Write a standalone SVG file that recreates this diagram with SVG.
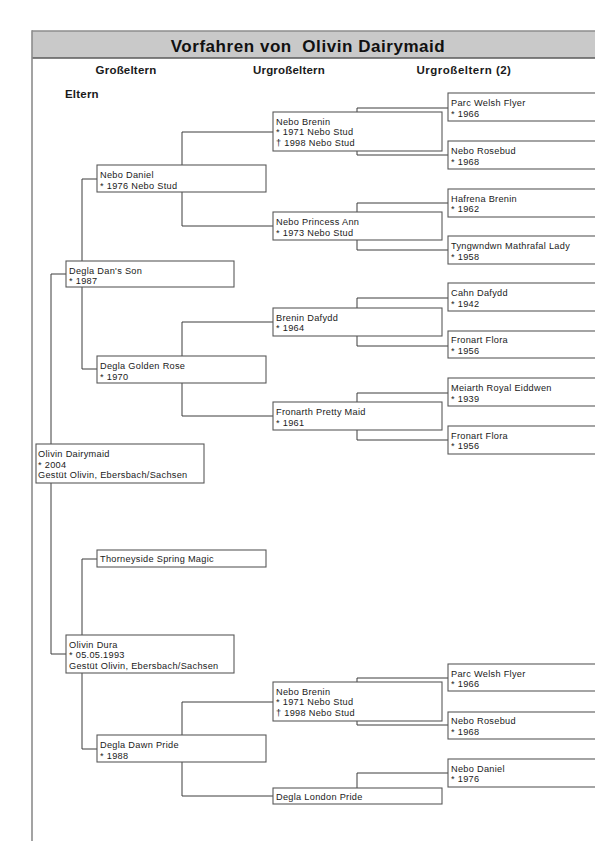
<svg xmlns="http://www.w3.org/2000/svg" width="595" height="841" viewBox="0 0 595 841">
<style>
.frame{fill:none;stroke:#8c8c8c;stroke-width:1.6}
.box{fill:#fff;stroke:#5a5a5a;stroke-width:1.1}
.c{fill:none;stroke:#3c3c3c;stroke-width:1}
.t{font-family:"Liberation Sans",Arial,sans-serif;font-size:9.2px;letter-spacing:0.3px;fill:#1a1a1a}
.h{font-family:"Liberation Sans",Arial,sans-serif;font-size:11.5px;font-weight:bold;letter-spacing:0.2px;fill:#1a1a1a}
.title{font-family:"Liberation Sans",Arial,sans-serif;font-size:17px;font-weight:bold;letter-spacing:0.55px;fill:#111}
</style>
<rect width="595" height="841" fill="#fff"/>
<g id="frame">
<rect x="32" y="31" width="580" height="27" fill="#c9c9c9"/>
<line x1="32" y1="31" x2="600" y2="31" stroke="#8c8c8c" stroke-width="1.4"/>
<line x1="32" y1="58" x2="600" y2="58" stroke="#5a5a5a" stroke-width="1.6"/>
<line x1="32" y1="30.3" x2="32" y2="841" class="frame"/>
<text x="308" y="52.3" text-anchor="middle" class="title" xml:space="preserve">Vorfahren von  Olivin Dairymaid</text>
<text x="126" y="74" text-anchor="middle" class="h">Großeltern</text>
<text x="289" y="74" text-anchor="middle" class="h">Urgroßeltern</text>
<text x="464" y="74" text-anchor="middle" class="h" style="letter-spacing:0.5px">Urgroßeltern (2)</text>
<text x="65" y="98" class="h">Eltern</text>
</g>
<g id="connectors">
<path class="c" d="M51,274 H66 M51,274 V444 M51,483 V654 H66"/>
<path class="c" d="M82,261 V179 H97 M82,287 V369 H97"/>
<path class="c" d="M82,635 V559 H97 M82,673 V749 H97"/>
<path class="c" d="M182,165 V132 H273 M182,192 V226 H273"/>
<path class="c" d="M182,356 V322 H273 M182,383 V416 H273"/>
<path class="c" d="M182,735 V702 H273 M182,762 V796 H273"/>
<path class="c" d="M357,112 V108 H448 M357,151 V155 H448"/>
<path class="c" d="M357,212 V203 H448 M357,240 V250 H448"/>
<path class="c" d="M357,308 V298 H448 M357,336 V346 H448"/>
<path class="c" d="M357,402 V393 H448 M357,430 V440 H448"/>
<path class="c" d="M357,682 V678 H448 M357,721 V725 H448"/>
<path class="c" d="M357,788 V773 H448"/>
</g>
<g id="n-olivin-dairymaid"><rect class="box" x="36" y="444" width="168" height="39"/><text class="t" x="38" y="456.5">Olivin Dairymaid</text><text class="t" x="38" y="467.5">* 2004</text><text class="t" x="38" y="478.3">Gestüt Olivin, Ebersbach/Sachsen</text></g>
<g id="n-degla-dans-son"><rect class="box" x="66" y="261" width="168" height="26"/><text class="t" x="69" y="273.5">Degla Dan's Son</text><text class="t" x="69" y="284">* 1987</text></g>
<g id="n-olivin-dura"><rect class="box" x="66" y="635" width="168" height="38"/><text class="t" x="69" y="647.5">Olivin Dura</text><text class="t" x="69" y="658.3">* 05.05.1993</text><text class="t" x="69" y="669">Gestüt Olivin, Ebersbach/Sachsen</text></g>
<g id="n-nebo-daniel"><rect class="box" x="97" y="165" width="169" height="27"/><text class="t" x="100" y="177.5">Nebo Daniel</text><text class="t" x="100" y="188.5">* 1976 Nebo Stud</text></g>
<g id="n-degla-golden-rose"><rect class="box" x="97" y="356" width="169" height="27"/><text class="t" x="100" y="368.5">Degla Golden Rose</text><text class="t" x="100" y="379.5">* 1970</text></g>
<g id="n-thorneyside"><rect class="box" x="97" y="550" width="169" height="17"/><text class="t" x="100" y="562">Thorneyside Spring Magic</text></g>
<g id="n-degla-dawn-pride"><rect class="box" x="97" y="735" width="169" height="27"/><text class="t" x="100" y="747.5">Degla Dawn Pride</text><text class="t" x="100" y="758.5">* 1988</text></g>
<g id="n-nebo-brenin-1"><rect class="box" x="273" y="112" width="169" height="39"/><text class="t" x="276" y="124.7">Nebo Brenin</text><text class="t" x="276" y="135.3">* 1971 Nebo Stud</text><text class="t" x="276" y="145.6">† 1998 Nebo Stud</text></g>
<g id="n-nebo-princess-ann"><rect class="box" x="273" y="212" width="169" height="28"/><text class="t" x="276" y="224.7">Nebo Princess Ann</text><text class="t" x="276" y="235.5">* 1973 Nebo Stud</text></g>
<g id="n-brenin-dafydd"><rect class="box" x="273" y="308" width="169" height="28"/><text class="t" x="276" y="320.5">Brenin Dafydd</text><text class="t" x="276" y="331">* 1964</text></g>
<g id="n-fronarth-pretty-maid"><rect class="box" x="273" y="402" width="169" height="28"/><text class="t" x="276" y="415">Fronarth Pretty Maid</text><text class="t" x="276" y="425.5">* 1961</text></g>
<g id="n-nebo-brenin-2"><rect class="box" x="273" y="682" width="169" height="39"/><text class="t" x="276" y="694.7">Nebo Brenin</text><text class="t" x="276" y="705.3">* 1971 Nebo Stud</text><text class="t" x="276" y="715.6">† 1998 Nebo Stud</text></g>
<g id="n-degla-london-pride"><rect class="box" x="273" y="788" width="169" height="16"/><text class="t" x="276" y="800">Degla London Pride</text></g>
<g id="n-parc-welsh-flyer-1"><rect class="box" x="448" y="93" width="169" height="28"/><text class="t" x="451" y="106">Parc Welsh Flyer</text><text class="t" x="451" y="116.5">* 1966</text></g>
<g id="n-nebo-rosebud-1"><rect class="box" x="448" y="141" width="169" height="28"/><text class="t" x="451" y="153.5">Nebo Rosebud</text><text class="t" x="451" y="164.5">* 1968</text></g>
<g id="n-hafrena-brenin"><rect class="box" x="448" y="189" width="169" height="28"/><text class="t" x="451" y="201.5">Hafrena Brenin</text><text class="t" x="451" y="212">* 1962</text></g>
<g id="n-tyngwndwn"><rect class="box" x="448" y="236" width="169" height="28"/><text class="t" x="451" y="249">Tyngwndwn Mathrafal Lady</text><text class="t" x="451" y="259.5">* 1958</text></g>
<g id="n-cahn-dafydd"><rect class="box" x="448" y="283" width="169" height="28"/><text class="t" x="451" y="296">Cahn Dafydd</text><text class="t" x="451" y="306.5">* 1942</text></g>
<g id="n-fronart-flora-1"><rect class="box" x="448" y="331" width="169" height="27"/><text class="t" x="451" y="343">Fronart Flora</text><text class="t" x="451" y="353.5">* 1956</text></g>
<g id="n-meiarth"><rect class="box" x="448" y="378" width="169" height="28"/><text class="t" x="451" y="391">Meiarth Royal Eiddwen</text><text class="t" x="451" y="401.5">* 1939</text></g>
<g id="n-fronart-flora-2"><rect class="box" x="448" y="426" width="169" height="28"/><text class="t" x="451" y="438.5">Fronart Flora</text><text class="t" x="451" y="449">* 1956</text></g>
<g id="n-parc-welsh-flyer-2"><rect class="box" x="448" y="664" width="169" height="27"/><text class="t" x="451" y="676.5">Parc Welsh Flyer</text><text class="t" x="451" y="687">* 1966</text></g>
<g id="n-nebo-rosebud-2"><rect class="box" x="448" y="712" width="169" height="27"/><text class="t" x="451" y="724">Nebo Rosebud</text><text class="t" x="451" y="735">* 1968</text></g>
<g id="n-nebo-daniel-2"><rect class="box" x="448" y="759" width="169" height="28"/><text class="t" x="451" y="771.5">Nebo Daniel</text><text class="t" x="451" y="782">* 1976</text></g>
</svg>
